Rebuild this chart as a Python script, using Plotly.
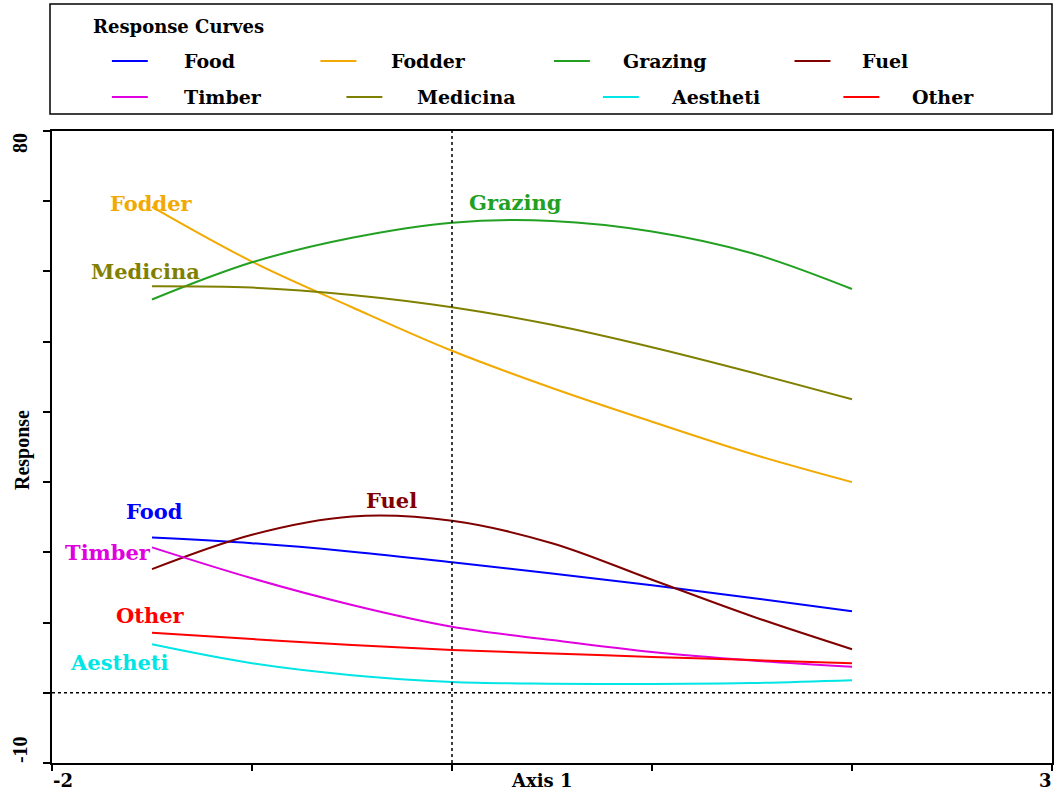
import plotly.graph_objects as go

# Axis 1 sample positions along each fitted response curve
axis1 = [-1.5, -1.0, -0.5, 0.0, 0.5, 1.0, 1.5, 2.0]

series_names = ["Food", "Fodder", "Grazing", "Fuel", "Timber", "Medicina", "Aestheti", "Other"]

food = [22.1, 21.3, 20.1, 18.6, 17.0, 15.3, 13.5, 11.6]
fodder = [69.2, 61.4, 54.9, 48.7, 43.4, 38.6, 34.0, 30.0]
grazing = [56.0, 61.3, 64.8, 66.95, 67.2, 65.7, 62.6, 57.5]
fuel = [17.6, 22.5, 25.1, 24.5, 21.3, 16.1, 10.9, 6.2]
timber = [20.7, 16.3, 12.5, 9.4, 7.5, 5.8, 4.6, 3.7]
medicina = [57.9, 57.7, 56.65, 54.9, 52.4, 49.2, 45.6, 41.8]
aestheti = [6.9, 4.2, 2.5, 1.55, 1.3, 1.25, 1.4, 1.8]
other = [8.55, 7.65, 6.8, 6.1, 5.6, 5.1, 4.65, 4.2]

values = [food, fodder, grazing, fuel, timber, medicina, aestheti, other]
colors = ["#0000ff", "#f2a900", "#22a022", "#800000",
          "#e000e0", "#808000", "#00e5e5", "#ff0000"]

x_ticks = [-2, -1, 0, 1, 2, 3]
y_ticks = [-10, 0, 10, 20, 30, 40, 50, 60, 70, 80]

W, H = 1062, 793
L, R, T, B = 52, 8, 131, 30
PW, PH = W - L - R, H - T - B


def px(x):
    return (x - L) / PW


def py(y):
    return (H - B - y) / PH


fig = go.Figure()

for name, ys, col in zip(series_names, values, colors):
    fig.add_trace(go.Scatter(
        x=axis1, y=ys, mode="lines", name=name,
        line=dict(color=col, width=2, shape="spline", smoothing=1.0),
        showlegend=False, hoverinfo="x+y+name"))

# reference lines through the origin
fig.add_shape(type="line", x0=0, x1=0, y0=-10, y1=80, xref="x", yref="y",
              line=dict(color="black", width=1.5, dash="dot"))
fig.add_shape(type="line", x0=-2, x1=3, y0=0, y1=0, xref="x", yref="y",
              line=dict(color="black", width=1.5, dash="dot"))

# curve labels placed beside each curve
curve_labels = {
    "Fodder": (151, 203),
    "Grazing": (516, 202),
    "Medicina": (146, 271),
    "Fuel": (392, 500),
    "Food": (155, 511),
    "Timber": (108, 552),
    "Other": (151, 615),
    "Aestheti": (120, 662),
}
for name, col in zip(series_names, colors):
    cx, cy = curve_labels[name]
    fig.add_annotation(x=px(cx), y=py(cy), xref="paper", yref="paper",
                       text=name, showarrow=False,
                       font=dict(family="DejaVu Serif", size=21, color=col, weight="bold"),
                       xanchor="center", yanchor="middle")

# legend panel
fig.add_shape(type="rect", xref="paper", yref="paper",
              x0=px(50), x1=px(1054), y0=py(114), y1=py(4),
              line=dict(color="black", width=1.5), fillcolor="white")
fig.add_annotation(x=px(91), y=py(26), xref="paper", yref="paper",
                   text="Response Curves", showarrow=False,
                   font=dict(family="DejaVu Serif", size=18, color="black", weight="bold"),
                   xanchor="left", yanchor="middle")

legend_pos = {
    "Food": (112, 182, 61), "Fodder": (321, 390, 61),
    "Grazing": (555, 622, 61), "Fuel": (796, 862, 61),
    "Timber": (112, 182, 97), "Medicina": (347, 416, 97),
    "Aestheti": (604, 670, 97), "Other": (845, 912, 97),
}
for name, col in zip(series_names, colors):
    lx, tx, ly = legend_pos[name]
    fig.add_shape(type="line", xref="paper", yref="paper",
                  x0=px(lx), x1=px(lx + 36), y0=py(ly), y1=py(ly),
                  line=dict(color=col, width=2))
    fig.add_annotation(x=px(tx), y=py(ly), xref="paper", yref="paper",
                       text=name, showarrow=False,
                       font=dict(family="DejaVu Serif", size=19, color="black", weight="bold"),
                       xanchor="left", yanchor="middle")

# axis end labels and titles
tick_font = dict(family="Liberation Serif", size=20, color="black", weight="bold")
fig.add_annotation(x=px(20), y=py(143), xref="paper", yref="paper", text=str(y_ticks[-1]),
                   showarrow=False, textangle=-90, font=tick_font,
                   xanchor="center", yanchor="middle")
fig.add_annotation(x=px(20), y=py(750), xref="paper", yref="paper", text=str(y_ticks[0]),
                   showarrow=False, textangle=-90, font=tick_font,
                   xanchor="center", yanchor="middle")
fig.add_annotation(x=px(22), y=py(450), xref="paper", yref="paper", text="Response",
                   showarrow=False, textangle=-90, font=tick_font,
                   xanchor="center", yanchor="middle")

xfont = dict(family="DejaVu Serif", size=18, color="black", weight="bold")
fig.add_annotation(x=px(63), y=py(780), xref="paper", yref="paper", text=str(x_ticks[0]),
                   showarrow=False, font=xfont, xanchor="center", yanchor="middle")
fig.add_annotation(x=px(1047), y=py(780), xref="paper", yref="paper", text=str(x_ticks[-1]),
                   showarrow=False, font=xfont, xanchor="center", yanchor="middle")
fig.add_annotation(x=px(542), y=py(780), xref="paper", yref="paper", text="Axis 1",
                   showarrow=False, font=xfont, xanchor="center", yanchor="middle")

fig.update_xaxes(range=[-2, 3], showline=True, linecolor="black", linewidth=2, mirror=True,
                 ticks="outside", ticklen=6, tickwidth=2, tickcolor="black",
                 tickvals=x_ticks, showticklabels=False, showgrid=False, zeroline=False)
fig.update_yaxes(range=[-10, 80], showline=True, linecolor="black", linewidth=2, mirror=True,
                 ticks="outside", ticklen=7, tickwidth=2, tickcolor="black",
                 tickvals=y_ticks, showticklabels=False, showgrid=False, zeroline=False)

fig.update_layout(width=W, height=H, margin=dict(l=L, r=R, t=T, b=B),
                  paper_bgcolor="white", plot_bgcolor="white", showlegend=False)

fig.write_html("out.html")
